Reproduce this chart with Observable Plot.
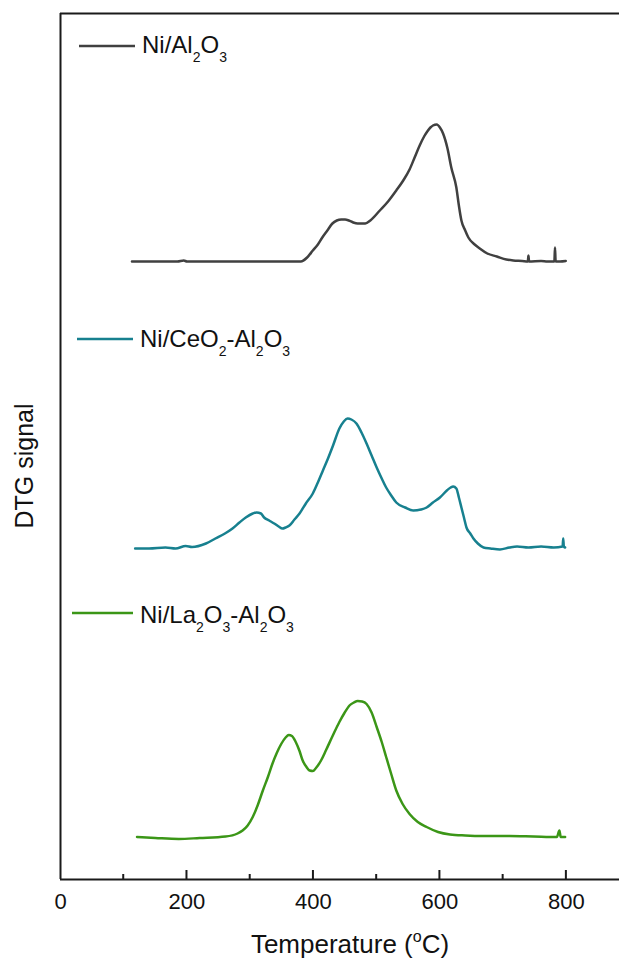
<!DOCTYPE html>
<html><head><meta charset="utf-8">
<script src="https://cdn.jsdelivr.net/npm/d3@7"></script>
<script src="https://cdn.jsdelivr.net/npm/@observablehq/plot@0.6"></script>
<style>body{margin:0;background:#fff} svg{display:block}</style>
</head><body><div id="chart"></div>
<script>
// ---- data ----
const seriesNames = ["Ni/Al2O3", "Ni/CeO2-Al2O3", "Ni/La2O3-Al2O3"];
const seriesColors = ["#404040", "#17808f", "#3b9617"];
const seriesOffsets = [618, 331, 42.5]; // vertical stacking offsets (a.u.)

const tempAl = [113,150,185,195,200,205,240,300,350,380,390,399,407,414,422,430,437,444,450,456,463,470,482,490,505,518,531,542,552,560,568,575,580,585,589,595,600,605,612,618,626,630,634,640,645,655,663,675,690,705,716,730,739,740,741,760,770,781,782,783,790,799];
const dtgAl  = [0,0,0,1,0,0,0,0,0,0,4,11,17,24,31,38,41,42,42,41,39,38,38,41,51,60,71,81,92,104,116,125,130,134,136,137,134,128,113,94,74,56,41,31,24,17,13,8,5,2,1,0.5,0,6,0,0.5,0,0,14,0,0,0.5];

const tempCe = [118,140,166,182,198,208,230,245,260,272,283,293,304,310,317,322,330,338,345,351,356,362,370,378,388,399,407,415,423,431,441,448,454,460,468,476,484,492,500,508,515,523,531,545,558,570,579,589,600,611,617,621,626,630,634,638,642,648,653,660,669,680,695,710,722,740,760,780,794,795,796,798];
const dtgCe  = [0,0,1,0,2.5,1.5,5,10,15,20,26,31,35,36,35,31,28,25,22,20,21,23,29,35,45,55,66,78,90,103,120,127,130,129,125,116,105,93,81,70,61,53,46,41,38,39,41,46,51,58,61,62,60,51,41,31,21,15,10,5,1,0,-1,1,2,1,2,1,2,10,2,1];

const tempLa = [121,150,187,220,261,280,288,296,304,312,320,328,335,342,349,356,361,366,372,378,383,389,394,399,404,412,420,431,441,449,457,464,470,477,484,492,500,508,515,523,531,541,552,565,579,597,616,640,669,710,748,785,789,791,798];
const dtgLa  = [0,-1,-2,-1,0.5,3.5,6.5,11.5,20,32,46.5,60,73,84,93,99.5,102,101,95,86,76.5,70,66.5,66,69,76.5,87,102,115,124,131.5,134.5,136,135.5,133,124.5,110,95,80,63,46.5,33,23,15,10,5,2.5,1.5,1,1,0.5,0,6.5,0,0];

const xMajorTicks = [0, 200, 400, 600, 800];
const xMinorTicks = [100, 300, 500, 700];
const xLabel = "Temperature";
const yLabel = "DTG signal";

// ---- build table ----
const rows = [];
[[tempAl, dtgAl], [tempCe, dtgCe], [tempLa, dtgLa]].forEach(([t, v], i) =>
  t.forEach((T, j) => rows.push({series: seriesNames[i], T, signal: seriesOffsets[i] + v[j]})));

const font = "'Liberation Sans', Arial, Helvetica, sans-serif";
const ink = "#1a1a1a";

const plot = Plot.plot({
  width: 619, height: 960,
  marginLeft: 60, marginRight: 0, marginTop: 13, marginBottom: 81,
  style: {fontFamily: font, background: "#fff", color: "#111"},
  x: {domain: [0, 884]},
  y: {domain: [0, 866], axis: null},
  color: {domain: seriesNames, range: seriesColors},
  marks: [
    Plot.axisX({ticks: xMajorTicks, tickSize: 0, tickPadding: 14, fontSize: 22, label: null, tickFormat: d => String(d)}),
    Plot.line(rows, {x: "T", y: "signal", z: "series", stroke: "series", strokeWidth: 2.5, curve: "monotone-x"}),
    Plot.ruleX([0], {stroke: ink, strokeWidth: 2}),
    Plot.ruleY([0, 866], {stroke: ink, strokeWidth: 2})
  ]
});

const svg = d3.select(plot);
const xs = plot.scale("x"), ys = plot.scale("y");
const y0 = ys.apply(0);

// inward ticks
const tg = svg.append("g").attr("stroke", ink).attr("stroke-width", 2);
tg.selectAll("line.maj").data(xMajorTicks.filter(d => d > 0)).join("line")
  .attr("x1", d => xs.apply(d)).attr("x2", d => xs.apply(d)).attr("y1", y0).attr("y2", y0 - 9);
tg.selectAll("line.min").data(xMinorTicks).join("line")
  .attr("x1", d => xs.apply(d)).attr("x2", d => xs.apply(d)).attr("y1", y0).attr("y2", y0 - 5);

// axis titles
const xt = svg.append("text").attr("x", 350).attr("y", 953).attr("text-anchor", "middle")
  .attr("font-family", font).attr("font-size", 26).attr("fill", "#111");
xt.append("tspan").text(xLabel + " (");
xt.append("tspan").attr("font-size", 16).attr("dy", -11).text("o");
xt.append("tspan").attr("dy", 11).text("C)");

svg.append("text").attr("transform", "translate(33,466) rotate(-90)").attr("text-anchor", "middle")
  .attr("font-family", font).attr("font-size", 25).attr("fill", "#111").text(yLabel);

// legends (chemical formulas with subscripts)
const legendLayout = [
  {x1: 79, x2: 135, y: 46, tx: 142, ty: 53},
  {x1: 77, x2: 133, y: 339, tx: 140, ty: 346.5},
  {x1: 72, x2: 133, y: 613, tx: 140, ty: 622.5}
];
seriesNames.forEach((name, i) => {
  const L = legendLayout[i];
  svg.append("line").attr("x1", L.x1).attr("x2", L.x2).attr("y1", L.y).attr("y2", L.y)
    .attr("stroke", seriesColors[i]).attr("stroke-width", 2.4);
  const t = svg.append("text").attr("x", L.tx).attr("y", L.ty).attr("text-anchor", "start")
    .attr("font-family", font).attr("font-size", 24).attr("fill", "#111");
  let sub = false;
  name.split(/(\d)/).filter(s => s.length).forEach(part => {
    const isDigit = /\d/.test(part);
    const ts = t.append("tspan").text(part);
    if (isDigit && !sub) { ts.attr("font-size", 14).attr("dy", 9); sub = true; }
    else if (isDigit && sub) { ts.attr("font-size", 14); }
    else if (!isDigit && sub) { ts.attr("dy", -9); sub = false; }
  });
});

document.getElementById("chart").appendChild(plot);
</script>
</body></html>
